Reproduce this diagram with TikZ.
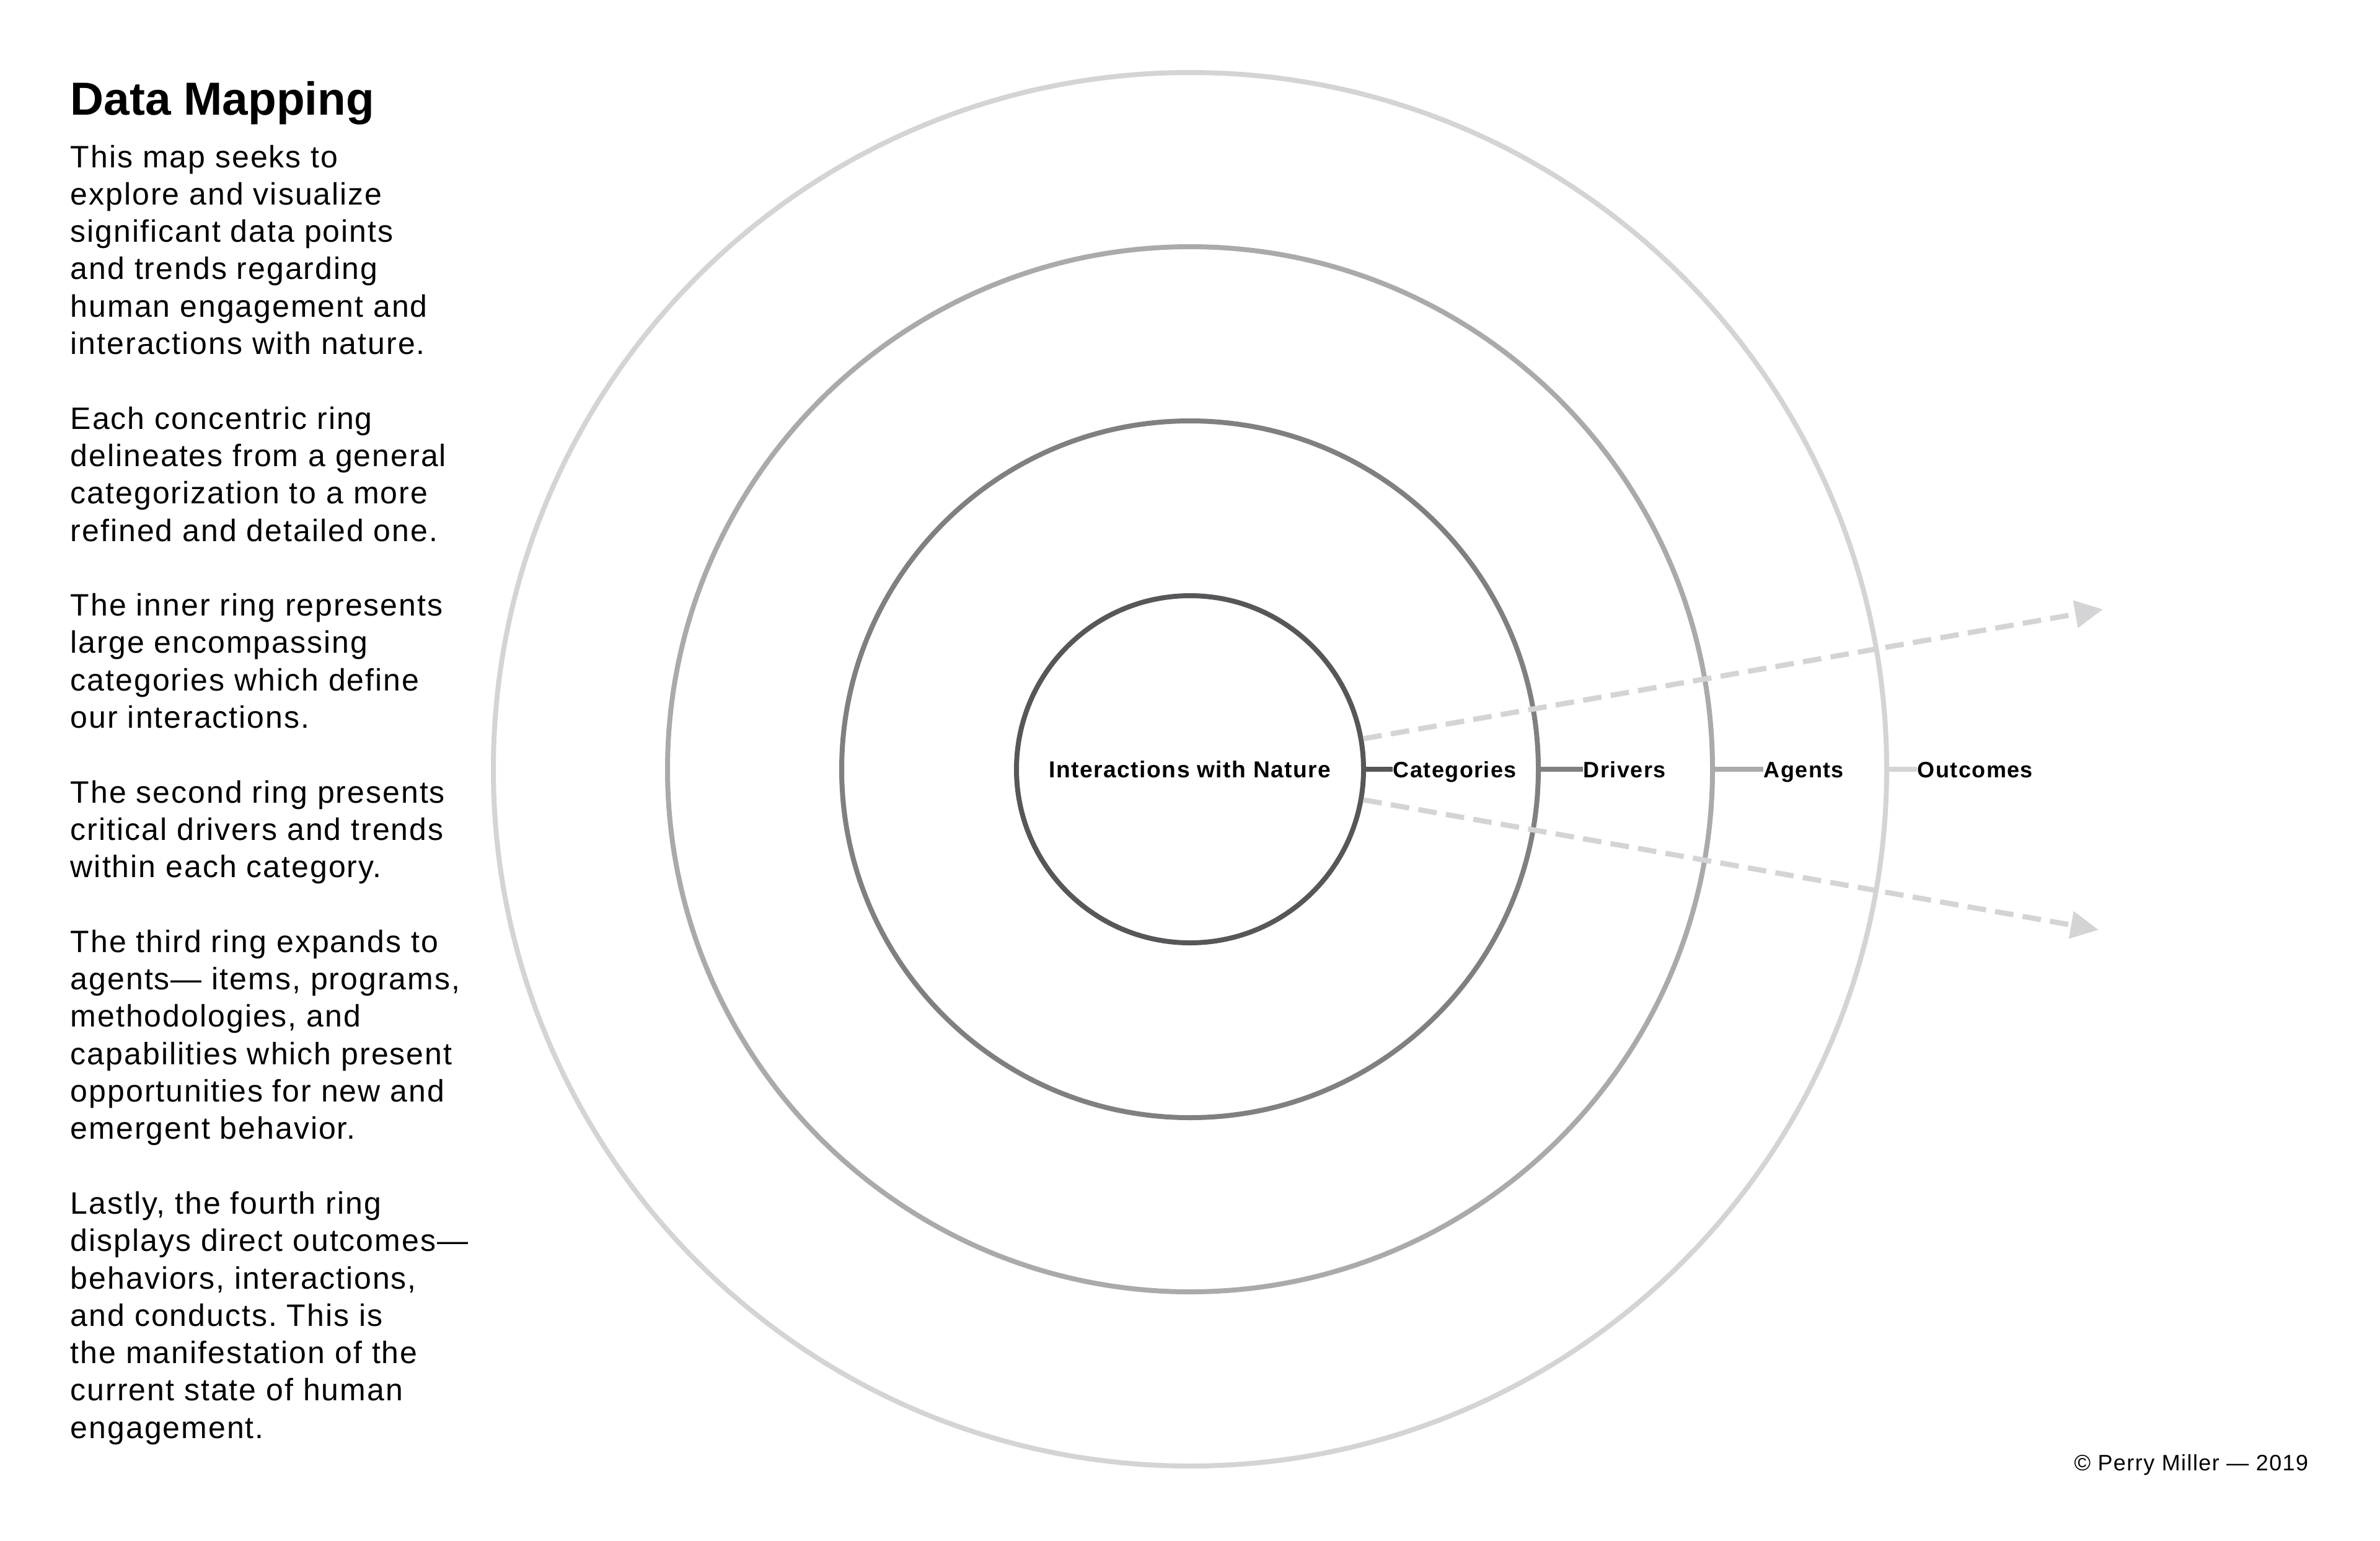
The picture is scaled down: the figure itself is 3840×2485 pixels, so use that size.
\documentclass[tikz,border=0pt]{standalone}
\usepackage{fontspec}
\setmainfont{Liberation Sans}[LetterSpace=4]
\newfontfamily\titlefont{Liberation Sans}
\usetikzlibrary{arrows.meta}
\definecolor{ringA}{HTML}{57575A}
\definecolor{ringB}{HTML}{808082}
\definecolor{ringC}{HTML}{AAAAAC}
\definecolor{ringD}{HTML}{D4D4D6}
\definecolor{flowgray}{HTML}{D4D4D6}
\frenchspacing
\begin{document}
\begin{tikzpicture}[x=0.25pt,y=-0.25pt,
  ring/.style={circle, draw, line width=2pt, inner sep=0pt},
  tickline/.style={line width=2.2pt},
  lbl/.style={font=\fontsize{9pt}{11pt}\selectfont\bfseries, inner sep=0pt, anchor=base west},
  flow/.style={draw=flowgray, line width=2.1pt, dash pattern=on 7.5pt off 3.75pt,
    -{Triangle[length=11.25pt,width=10.75pt]}}]
\fill[white] (0,0) rectangle (3840,2485);
\useasboundingbox (0,0) rectangle (3840,2485);

% rings
\node[ring, draw=ringD, minimum size=562pt] (ring4) at (1920,1241) {};
\node[ring, draw=ringC, minimum size=421.5pt] (ring3) at (1920,1241) {};
\node[ring, draw=ringB, minimum size=281pt] (ring2) at (1920,1241) {};
\node[ring, draw=ringA, minimum size=140pt, font=\fontsize{9.3pt}{11pt}\selectfont\bfseries] (ring1) at (1920,1241) {Interactions with Nature};

% labels
\node[lbl] (cat) at (2247,1254) {Categories};
\node[lbl] (drv) at (2554,1254) {Drivers};
\node[lbl] (agt) at (2845,1254) {Agents};
\node[lbl] (out) at (3093,1254) {Outcomes};

\draw[tickline, ringA] (ring1.east) -- (ring1.east -| cat.west);
\draw[tickline, ringB] (ring2.east) -- (ring2.east -| drv.west);
\draw[tickline, ringC] (ring3.east) -- (ring3.east -| agt.west);
\draw[tickline, ringD] (ring4.east) -- (ring4.east -| out.west);

% flow arrows
\coordinate (upEnd) at (3393,983);
\coordinate (downEnd) at (3386,1500);
\draw[flow] (ring1.10) -- (upEnd);
\draw[flow] (ring1.-10) -- (downEnd);

% title and text
\node[anchor=base west, inner sep=0pt, font=\titlefont\fontsize{18.7pt}{22pt}\selectfont\bfseries] (title) at (113,185) {Data Mapping};

\node[anchor=base west, inner sep=0pt] (body) at (113,270) {\parbox[t]{220pt}{\fontsize{12.5pt}{15.075pt}\selectfont\raggedright\setlength{\parskip}{15.075pt}\setlength{\parindent}{0pt}%
This map seeks to\\
explore and visualize\\
significant data points\\
and trends regarding\\
human engagement and\\
interactions with nature.

Each concentric ring\\
delineates from a general\\
categorization to a more\\
refined and detailed one.

The inner ring represents\\
large encompassing\\
categories which define\\
our interactions.

The second ring presents\\
critical drivers and trends\\
within each category.

The third ring expands to\\
agents— items, programs,\\
methodologies, and\\
capabilities which present\\
opportunities for new and\\
emergent behavior.

Lastly, the fourth ring\\
displays direct outcomes—\\
behaviors, interactions,\\
and conducts. This is\\
the manifestation of the\\
current state of human\\
engagement.}};

\node[anchor=base east, inner sep=0pt, font=\fontsize{9pt}{11pt}\selectfont] (copy) at (3725,2372) {© Perry Miller — 2019};
\end{tikzpicture}
\end{document}
